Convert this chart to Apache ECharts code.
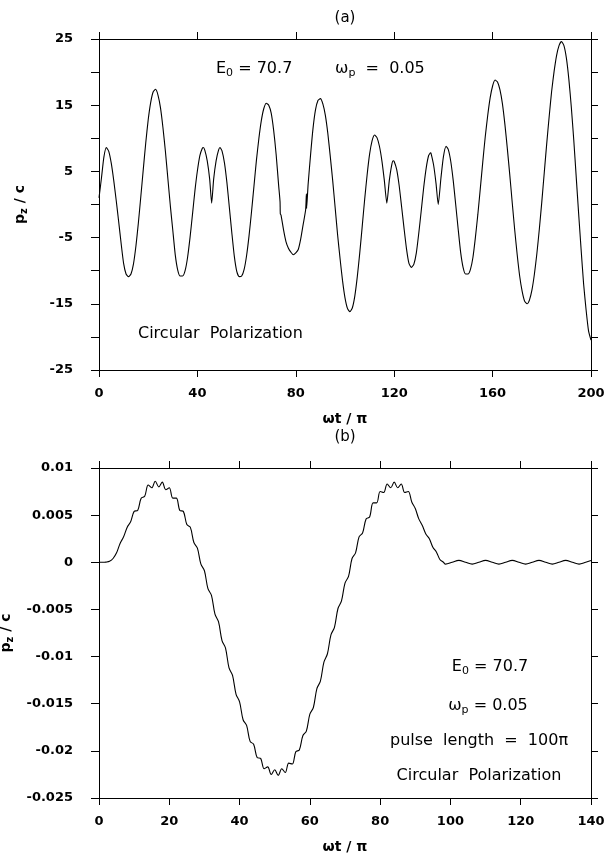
<!DOCTYPE html>
<html><head><meta charset="utf-8">
<script src="https://cdn.jsdelivr.net/npm/echarts@6/dist/echarts.min.js"></script>
<style>html,body{margin:0;padding:0;background:#fff}#c{width:607px;height:854px}</style>
</head><body><div id="c"></div>
<script>
// Panel (a): p_z/c vs wt/pi
const aT = [0,1,2,3,4,5,6,7,8,9,10,11,12,13,14,15,16,17,18,19,20,21,22,23,24,25,26,27,28,29,30,31,32,33,34,35,36,37,38,39,40,41,42,42.4,43,44,45,45.8,46.6,47.6,48.6,49.2,50,51,52,53,54,55,56,57,58,59,60,61,62,63,64,65,66,67,68,69,70,71,72,73,73.6,73.7,74,75,76,77,78,79,80,81,82,83,84,84.3,84.4,85,86,87,88,89,90,91,92,93,94,95,96,97,98,99,100,101,102,103,104,105,106,107,108,109,110,111,112,113,114,115,116,117,118,119,119.6,120,121,122,123,124,125,126,127,128,129,130,131,132,133,134,134.8,135,136,137,137.9,139,140,141.1,142,143,144,145,146,147,148,149,150,151,152,153,154,155,156,157,158,159,160,161,162,163,164,165,166,167,168,169,170,171,172,173,174,175,176,177,178,179,180,181,182,183,184,185,186,187,188,189,190,191,192,193,194,195,196,197,198,199,200];
const aP = [1.0,4.0,7.2,8.6,8.0,6.2,3.6,0.6,-2.6,-5.9,-8.9,-10.5,-10.9,-10.5,-9.0,-6.3,-2.8,1.2,5.3,9.3,12.8,15.4,17.0,17.4,16.5,14.6,11.6,8.0,3.9,-0.2,-3.9,-7.6,-9.9,-10.8,-10.8,-10.0,-8.0,-5.0,-1.5,2.1,5.1,7.4,8.5,8.6,8.2,6.6,3.8,0.2,3.8,6.6,8.2,8.6,8.1,6.3,3.3,-0.5,-4.3,-7.8,-10.1,-10.9,-10.8,-9.8,-7.7,-4.7,-1.1,2.8,6.7,10.0,12.7,14.5,15.3,15.0,13.8,11.2,7.6,3.0,0.4,-1.4,-1.6,-3.8,-5.6,-6.6,-7.2,-7.6,-7.3,-6.8,-5.2,-3.0,-0.8,1.6,-0.6,3.0,7.5,11.5,14.3,15.7,16.0,15.2,13.5,10.8,7.3,3.6,-0.5,-4.6,-8.2,-11.5,-14.1,-15.7,-16.2,-15.6,-13.8,-10.9,-7.3,-3.3,0.8,4.5,7.6,9.6,10.5,10.1,8.8,6.6,3.6,0.2,3.6,6.0,6.6,6.5,5.3,2.9,-0.3,-3.6,-6.7,-8.9,-9.5,-9.0,-7.3,-4.3,-0.9,2.6,5.5,7.4,7.8,7.7,6.0,3.2,0.0,4.0,7.2,8.8,8.3,6.5,3.6,0.0,-3.7,-7.2,-9.5,-10.5,-10.5,-9.8,-8.0,-5.0,-1.5,2.4,6.4,10.2,13.4,16.1,17.9,18.8,18.5,17.3,15.2,12.1,8.4,4.4,0.2,-3.9,-7.6,-10.8,-13.1,-14.6,-15.0,-14.4,-12.9,-10.5,-7.4,-3.7,0.4,4.8,9.2,13.3,17.1,20.1,22.5,24.0,24.6,24.0,22.1,18.9,14.7,9.7,4.1,-1.5,-6.9,-12.0,-15.9,-19.1,-20.5];
// Panel (b)
const bT = [0,1,2,3,4,5,6,7,8,9,10,11,12,13,14,15,16,17,18,19,20,21,22,23,24,25,26,27,28,29,30,31,32,33,34,35,36,37,38,39,40,41,42,43,44,45,46,47,48,49,50,51,52,53,54,55,56,57,58,59,60,61,62,63,64,65,66,67,68,69,70,71,72,73,74,75,76,77,78,79,80,81,82,83,84,85,86,87,88,89,90,91,92,93,94,95,96,97,98,98.6,100.5,102.4,104.3,106.2,108.1,110,111.9,113.8,115.7,117.6,119.5,121.4,123.3,125.2,127.1,129,130.9,132.8,134.7,136.6,138.5,140];
const bP = [0,0,0.00002,0.0001,0.0004,0.0010,0.0020,0.0027,0.0037,0.0043,0.0054,0.0055,0.0068,0.0070,0.0082,0.0079,0.0086,0.0080,0.0085,0.0077,0.0079,0.0068,0.0068,0.0055,0.0054,0.0040,0.0037,0.0021,0.0015,-0.0002,-0.0009,-0.0028,-0.0035,-0.0055,-0.0063,-0.0083,-0.0091,-0.0112,-0.0120,-0.0140,-0.0148,-0.0167,-0.0173,-0.0190,-0.0193,-0.0207,-0.0208,-0.0219,-0.0217,-0.0225,-0.0220,-0.0226,-0.0219,-0.0223,-0.0213,-0.0214,-0.0201,-0.0199,-0.0184,-0.0179,-0.0161,-0.0154,-0.0134,-0.0126,-0.0106,-0.0097,-0.0077,-0.0069,-0.0049,-0.0041,-0.0022,-0.0015,0.0004,0.0010,0.0027,0.0031,0.0046,0.0048,0.0063,0.0063,0.0075,0.0074,0.0083,0.0079,0.0085,0.0079,0.0083,0.0074,0.0075,0.0064,0.0057,0.0046,0.0039,0.0030,0.0025,0.0016,0.0011,0.0003,0.0000,-0.0002,0,0.0002,0,-0.0002,0,0.0002,0,-0.0002,0,0.0002,0,-0.0002,0,0.0002,0,-0.0002,0,0.0002,0,-0.0002,0,0.00018];
const aYLabels = [-25,-15,-5,5,15,25];

const zip = (t, p) => t.map((x, i) => [x, p[i]]);
const AX = {color:'#000', width:1};
const tickFont = {fontFamily:'DejaVu Sans', fontWeight:'bold', fontSize:13, color:'#000'};
const nameFont = {fontFamily:'DejaVu Sans', fontWeight:'bold', fontSize:14, color:'#000',
  rich:{sub:{fontFamily:'DejaVu Sans', fontWeight:'bold', fontSize:10, padding:[8,0,0,0], color:'#000'}}};
function xMain(grid, max, interval){
  return {gridIndex:grid, type:'value', min:0, max:max, interval:interval, position:'bottom',
    axisLine:{onZero:false, lineStyle:AX}, axisTick:{length:7, lineStyle:AX},
    axisLabel:Object.assign({margin:17}, tickFont), splitLine:{show:false},
    name:'ωt / π', nameLocation:'middle', nameGap:42, nameTextStyle:nameFont};
}
function xTop(grid, max, interval){
  return {gridIndex:grid, type:'value', min:0, max:max, interval:interval, position:'top',
    axisLine:{onZero:false, lineStyle:AX}, axisTick:{length:7, lineStyle:AX},
    axisLabel:{show:false}, splitLine:{show:false}};
}
function yMain(grid, min, max, interval, fmt){
  return {gridIndex:grid, type:'value', min:min, max:max, interval:interval, position:'left',
    axisLine:{show:true, onZero:false, lineStyle:AX}, axisTick:{show:true, length:8, lineStyle:AX},
    axisLabel:Object.assign({margin:26, formatter:fmt}, tickFont), splitLine:{show:false},
    name:'p{sub|z} / c', nameLocation:'middle', nameRotate:90, nameGap:70, nameTextStyle:nameFont};
}
function yRight(grid, min, max, interval){
  return {gridIndex:grid, type:'value', min:min, max:max, interval:interval, position:'right',
    axisLine:{show:true, onZero:false, lineStyle:AX}, axisTick:{show:true, length:7, lineStyle:AX},
    axisLabel:{show:false}, splitLine:{show:false}};
}
const annRich = {m:{fontFamily:'DejaVu Sans', fontSize:16, color:'#000'},
  s:{fontFamily:'DejaVu Sans', fontSize:11, color:'#000', padding:[9,0,0,0]}};
function ann(x, y, text, align){
  return {type:'text', x:x, y:y, style:{text:text, rich:annRich, align:align||'left', verticalAlign:'middle', font:'16px "DejaVu Sans"', fill:'#000'}};
}

const chart = echarts.init(document.getElementById('c'));
chart.setOption({
  animation:false,
  backgroundColor:'#fff',
  grid:[{left:99, right:16, top:39, height:331, containLabel:false, outerBoundsMode:'none'},
        {left:99, right:16, top:468, height:330, containLabel:false, outerBoundsMode:'none'}],
  xAxis:[xMain(0,200,40), xTop(0,200,40), xMain(1,140,20), xTop(1,140,20)],
  yAxis:[
    yMain(0,-25,25,5, v => aYLabels.includes(v) ? String(v) : ''),
    yRight(0,-25,25,5),
    yMain(1,-0.025,0.01,0.005, v => String(+v.toFixed(3))),
    yRight(1,-0.025,0.01,0.005)
  ],
  series:[
    {type:'line', xAxisIndex:0, yAxisIndex:0, data:zip(aT,aP), showSymbol:false, smooth:0.2,
     lineStyle:{color:'#000', width:1.1}},
    {type:'line', xAxisIndex:2, yAxisIndex:2, data:zip(bT,bP), showSymbol:false, smooth:0.35,
     lineStyle:{color:'#000', width:1.1}}
  ],
  graphic:[
    {type:'text', x:345, y:18, style:{text:'(a)', font:'15px "DejaVu Sans"', fill:'#000', align:'center', verticalAlign:'middle'}},
    {type:'text', x:345, y:437, style:{text:'(b)', font:'15px "DejaVu Sans"', fill:'#000', align:'center', verticalAlign:'middle'}},
    ann(216, 69, '{m|E}{s|0}{m| = 70.7}'),
    ann(335, 69, '{m|ω}{s|p}{m|  =  0.05}'),
    ann(138, 334, '{m|Circular  Polarization}'),
    ann(490, 667, '{m|E}{s|0}{m| = 70.7}', 'center'),
    ann(488, 706, '{m|ω}{s|p}{m| = 0.05}', 'center'),
    ann(479, 741, '{m|pulse  length  =  100π}', 'center'),
    ann(479, 776, '{m|Circular  Polarization}', 'center')
  ]
});
</script></body></html>
